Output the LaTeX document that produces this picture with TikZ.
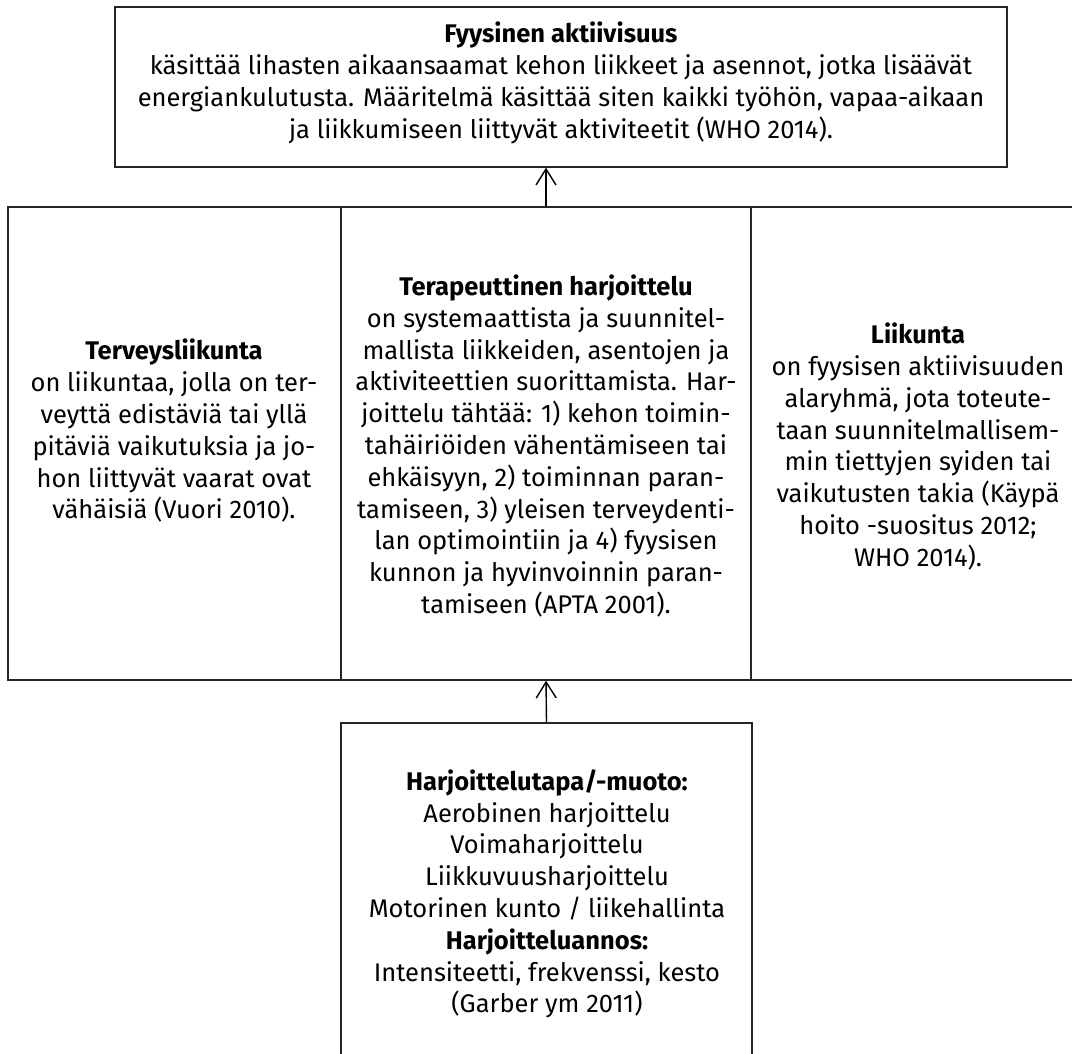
\documentclass[tikz,border=0pt]{standalone}
\usepackage{fontspec}
\setmainfont{Fira Sans}
\usetikzlibrary{arrows.meta}
\begin{document}
\begin{tikzpicture}[x=1pt,y=-1pt,
  box/.style={draw=black!85, line width=1.4pt, rectangle, inner sep=0pt},
  txt/.style={align=center, font=\fontsize{25.5}{31.8}\selectfont, inner sep=0pt},
  arr/.style={draw=black, line width=1.4pt, -{Straight Barb[length=16pt,width=20pt,line width=1.4pt]}}]
\clip (0,0) rectangle (1072,1054);
% boxes
\node[box, minimum width=892pt, minimum height=160pt] (top) at (561,87) {};
\node[box, minimum width=333pt, minimum height=473pt] (left) at (174.5,443.5) {};
\node[box, minimum width=410pt, minimum height=473pt] (mid) at (546,443.5) {};
\node[box, minimum width=334pt, minimum height=473pt] (right) at (918,443.5) {};
\node[box, minimum width=411pt, minimum height=376pt] (bot) at (546.5,911) {};
% texts
\node[txt] (ttop) at (561,83) {\textbf{Fyysinen aktiivisuus}\\
käsittää lihasten aikaansaamat kehon liikkeet ja asennot, jotka lisäävät\\
energiankulutusta. Määritelmä käsittää siten kaikki työhön, vapaa-aikaan\\
ja liikkumiseen liittyvät aktiviteetit (WHO 2014).};
\node[txt] (tleft) at (174,431) {\textbf{Terveysliikunta}\\
on liikuntaa, jolla on ter-\\
veyttä edistäviä tai yllä\\
pitäviä vaikutuksia ja jo-\\
hon liittyvät vaarat ovat\\
vähäisiä (Vuori 2010).};
\node[txt] (tmid) at (546,446) {\textbf{Terapeuttinen harjoittelu}\\
on systemaattista ja suunnitel-\\
mallista liikkeiden, asentojen ja\\
aktiviteettien suorittamista. Har-\\
joittelu tähtää: 1) kehon toimin-\\
tahäiriöiden vähentämiseen tai\\
ehkäisyyn, 2) toiminnan paran-\\
tamiseen, 3) yleisen terveydenti-\\
lan optimointiin ja 4) fyysisen\\
kunnon ja hyvinvoinnin paran-\\
tamiseen (APTA 2001).};
\node[txt] (tright) at (918,446.5) {\textbf{Liikunta}\\
on fyysisen aktiivisuuden\\
alaryhmä, jota toteute-\\
taan suunnitelmallisem-\\
min tiettyjen syiden tai\\
vaikutusten takia (Käypä\\
hoito -suositus 2012;\\
WHO 2014).};
\node[txt] (tbot) at (547,894) {\textbf{Harjoittelutapa/-muoto:}\\
Aerobinen harjoittelu\\
Voimaharjoittelu\\
Liikkuvuusharjoittelu\\
Motorinen kunto / liikehallinta\\
\textbf{Harjoitteluannos:}\\
Intensiteetti, frekvenssi, kesto\\
(Garber ym 2011)};
% connectors
\draw[arr] (mid.north) -- (top.south -| mid.north);
\draw[arr] (bot.north) -- (mid.south);
\end{tikzpicture}
\end{document}
